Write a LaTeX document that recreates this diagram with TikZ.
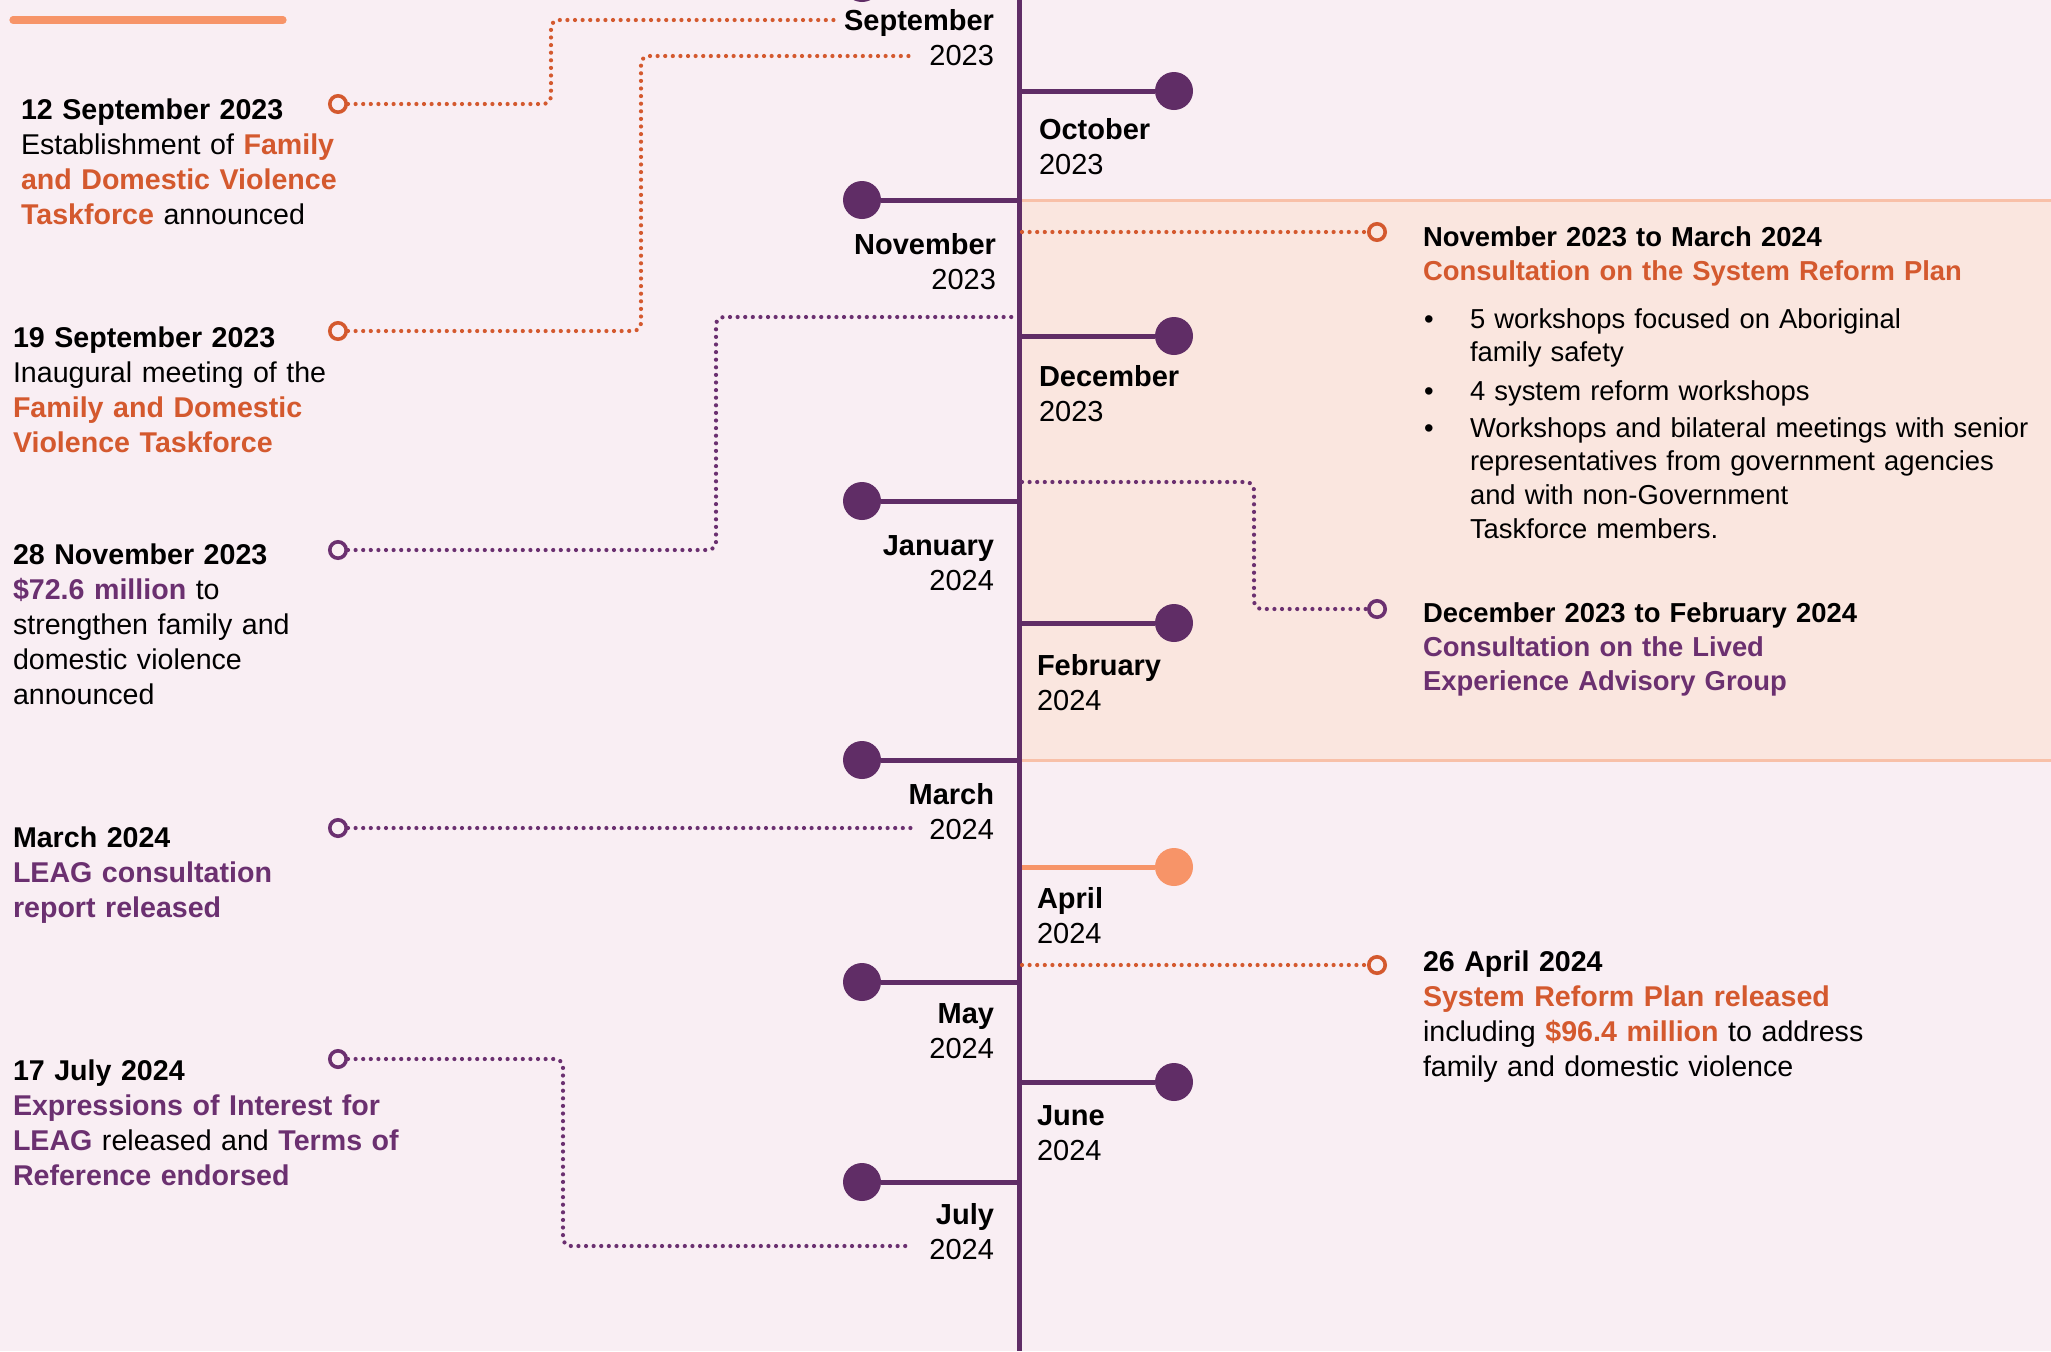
\documentclass[tikz,border=0pt]{standalone}
\usepackage{fontspec}
\setmainfont{Liberation Sans}
\definecolor{bgc}{RGB}{249,238,243}
\definecolor{bandc}{RGB}{250,230,223}
\definecolor{bandline}{RGB}{248,192,168}
\definecolor{plum}{RGB}{96,45,102}
\definecolor{ltplum}{RGB}{107,48,112}
\definecolor{rust}{RGB}{212,89,46}
\definecolor{peach}{RGB}{247,148,104}
\newcommand\hlR[1]{\textcolor{rust}{\bfseries #1}}
\newcommand\hlP[1]{\textcolor{ltplum}{\bfseries #1}}
\begin{document}
\begin{tikzpicture}[x=0.5pt,y=-0.5pt,
  txtbase/.style={inner sep=0pt, outer sep=0pt, font=\fontsize{14.5pt}{17.5pt}\selectfont},
  blk/.style={txtbase, anchor=base west, align=left, text width=330pt, font=\fontsize{14.3pt}{17.5pt}\selectfont},
  nblk/.style={txtbase, anchor=base west, align=left, text width=330pt, font=\fontsize{13.7pt}{17.1pt}\selectfont},
  bul/.style={txtbase, anchor=base west, align=left, text width=330pt, font=\fontsize{13.7pt}{16.9pt}\selectfont},
  mleft/.style={txtbase, anchor=base east, align=right, text width=100pt},
  mright/.style={txtbase, anchor=base west, align=left, text width=100pt},
  mdot/.style={circle, fill=#1, minimum size=19pt, inner sep=0pt},
  mdot/.default=plum,
  ring/.style={circle, draw=#1, line width=1.8pt, minimum size=8.2pt, inner sep=0pt},
  stick/.style={line width=2.5pt, draw=#1},
  stick/.default=plum,
  dotline/.style={draw=#1, line width=2.1pt, line cap=round, dash pattern=on 0pt off 3.8pt, rounded corners=4pt},
]
\fill[bgc] (0,0) rectangle (2051,1351);
\useasboundingbox (0,0) rectangle (2051,1351);
\clip (0,0) rectangle (2051,1351);

% top accent bar
\coordinate (barL) at (13,20);
\coordinate (barR) at (283,20);
\draw[peach, line width=3.6pt, line cap=round] (barL) -- (barR);

% shaded band
\fill[bandc] (1019,200) rectangle (2051,760);
\coordinate (bandTL) at (1019,200); \coordinate (bandTR) at (2051,200);
\coordinate (bandBL) at (1019,760); \coordinate (bandBR) at (2051,760);
\draw[bandline, line width=1.5pt] (bandTL) -- (bandTR);
\draw[bandline, line width=1.5pt] (bandBL) -- (bandBR);

% month sticks and dots
\foreach \nm/\yy/\xx in {Sep/-17/862, Oct/91/1174, Nov/200/862, Dec/336/1174, Jan/501/862, Feb/623/1174, Mar/760/862, May/982/862, Jun/1082/1174, Jul/1182/862}{
  \coordinate (a\nm) at (1019,\yy);
  \node[mdot] (d\nm) at (\xx,\yy) {};
  \draw[stick] (a\nm) -- (d\nm);
}
\coordinate (aApr) at (1019,867);
\node[mdot=peach] (dApr) at (1174,867) {};
\draw[stick=peach] (aApr) -- (dApr);

% axis
\coordinate (axT) at (1019,0);
\coordinate (axB) at (1019,1351);
\draw[plum, line width=2.5pt] (axT) -- (axB);

% month labels
\node[mleft] (lSep) at (994,30.5) {{\bfseries September}\\2023};
\node[mright] (lOct) at (1039,139) {{\bfseries October}\\2023};
\node[mleft] (lNov) at (996,254) {{\bfseries November}\\2023};
\node[mright] (lDec) at (1039,386.5) {{\bfseries December}\\2023};
\node[mleft] (lJan) at (994,555.5) {{\bfseries January}\\2024};
\node[mright] (lFeb) at (1037,675.5) {{\bfseries February}\\2024};
\node[mleft] (lMar) at (994,804.5) {{\bfseries March}\\2024};
\node[mright] (lApr) at (1037,908.5) {{\bfseries April}\\2024};
\node[mleft] (lMay) at (994,1023.5) {{\bfseries May}\\2024};
\node[mright] (lJun) at (1037,1125.5) {{\bfseries June}\\2024};
\node[mleft] (lJul) at (994,1224) {{\bfseries July}\\2024};

% left events
\node[blk] (ev1) at (21,119) {{\bfseries 12 September 2023}\\Establishment of \hlR{Family}\\\hlR{and Domestic Violence}\\\hlR{Taskforce} announced};
\node[blk] (ev2) at (13,347) {{\bfseries 19 September 2023}\\Inaugural meeting of the\\\hlR{Family and Domestic}\\\hlR{Violence Taskforce}};
\node[blk] (ev3) at (13,564) {{\bfseries 28 November 2023}\\\hlP{\$72.6 million} to\\strengthen family and\\domestic violence\\announced};
\node[blk] (ev4) at (13,847.5) {{\bfseries March 2024}\\\hlP{LEAG consultation}\\\hlP{report released}};
\node[blk] (ev5) at (13,1080) {{\bfseries 17 July 2024}\\\hlP{Expressions of Interest for}\\\hlP{LEAG} released and \hlP{Terms of}\\\hlP{Reference endorsed}};

% right events
\node[nblk] (ev6) at (1423,246) {{\bfseries November 2023 to March 2024}\\\hlR{Consultation on the System Reform Plan}};
\node[bul] (b1) at (1424,328) {•};
\node[bul] (t1) at (1470,328) {5 workshops focused on Aboriginal\\family safety};
\node[bul] (b2) at (1424,400) {•};
\node[bul] (t2) at (1470,400) {4 system reform workshops};
\node[bul] (b3) at (1424,437) {•};
\node[bul] (t3) at (1470,437) {Workshops and bilateral meetings with senior\\representatives from government agencies\\and with non-Government\\Taskforce members.};
\node[nblk] (ev7) at (1423,622) {{\bfseries December 2023 to February 2024}\\\hlP{Consultation on the Lived}\\\hlP{Experience Advisory Group}};
\node[blk] (ev8) at (1423,971.5) {{\bfseries 26 April 2024}\\\hlR{System Reform Plan released}\\including \hlR{\$96.4 million} to address\\family and domestic violence};

% rings
\node[ring=rust] (r1) at (338,104) {};
\node[ring=rust] (r2) at (338,331) {};
\node[ring=ltplum] (r3) at (338,550) {};
\node[ring=ltplum] (r4) at (338,828) {};
\node[ring=ltplum] (r5) at (338,1059) {};
\node[ring=rust] (r6) at (1377,232) {};
\node[ring=ltplum] (r7) at (1377,609) {};
\node[ring=rust] (r8) at (1377,965) {};

% connector ends
\coordinate (e1) at (835,20);
\coordinate (e2) at (916,56);
\coordinate (e3) at (1017,317);
\coordinate (e4) at (916,828);
\coordinate (e5) at (912,1246);
\coordinate (s6) at (1022,232);
\coordinate (s7) at (1022,482);
\coordinate (s8) at (1022,965);

\draw[dotline=rust] (r1.east) -- (551,104) -- (551,20) -- (e1);
\draw[dotline=rust] (r2.east) -- (641,331) -- (641,56) -- (e2);
\draw[dotline=ltplum] (r3.east) -- (716,550) -- (716,317) -- (e3);
\draw[dotline=ltplum] (r4.east) -- (e4);
\draw[dotline=ltplum] (r5.east) -- (563,1059) -- (563,1246) -- (e5);
\draw[dotline=rust] (s6) -- (r6.west);
\draw[dotline=ltplum] (s7) -- (1254,482) -- (1254,609) -- (r7.west);
\draw[dotline=rust] (s8) -- (r8.west);
\end{tikzpicture}
\end{document}
